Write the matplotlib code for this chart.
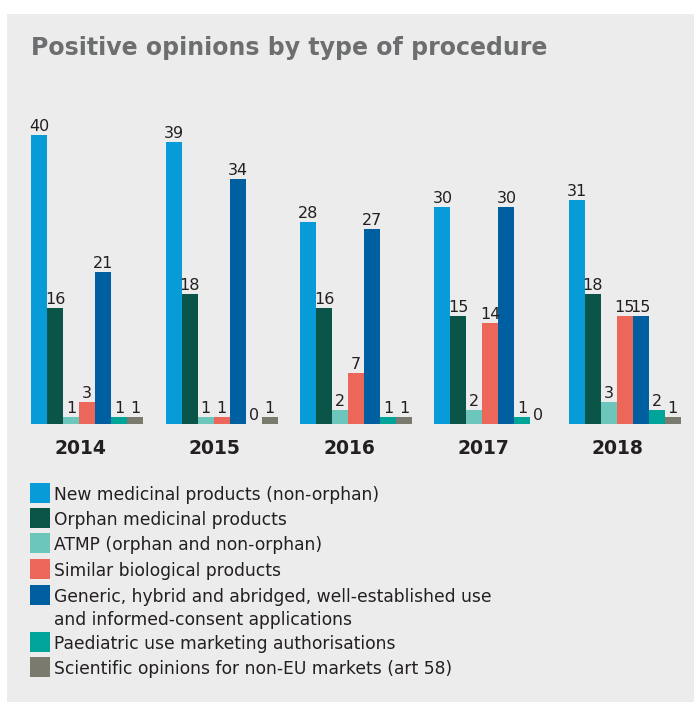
import matplotlib
matplotlib.use("Agg")
import matplotlib.pyplot as plt
from matplotlib.patches import Rectangle
import numpy as np

years = ["2014", "2015", "2016", "2017", "2018"]
series_names = [
    "New medicinal products (non-orphan)",
    "Orphan medicinal products",
    "ATMP (orphan and non-orphan)",
    "Similar biological products",
    "Generic, hybrid and abridged, well-established use\nand informed-consent applications",
    "Paediatric use marketing authorisations",
    "Scientific opinions for non-EU markets (art 58)",
]
new_medicinal = [40, 39, 28, 30, 31]
orphan = [16, 18, 16, 15, 18]
atmp = [1, 1, 2, 2, 3]
similar_bio = [3, 1, 7, 14, 15]
generic = [21, 34, 27, 30, 15]
paediatric = [1, 0, 1, 1, 2]
art58 = [1, 1, 1, 0, 1]
series_values = [new_medicinal, orphan, atmp, similar_bio, generic, paediatric, art58]
colors = ["#079bd8", "#0a5547", "#6cc6bc", "#ec665a", "#005fa0", "#00a498", "#7a7a6f"]

W, H = 694, 702
fig = plt.figure(figsize=(W / 100, H / 100), dpi=100)
fig.patch.set_facecolor("white")
bg = "#ececec"
fig.add_artist(Rectangle((7 / W, 0), 1 - 7 / W, (H - 14) / H, transform=fig.transFigure,
                         facecolor=bg, edgecolor="none", zorder=0))

fig.text(31 / W, 1 - 55 / H, "Positive opinions by type of procedure", fontsize=17,
         fontweight="bold", color="#6d6e70", va="baseline", ha="left")

# axes: x from -0.5..4.5 maps to px 20..692; baseline at px 424, 7.22 px/unit
ax_left, ax_right = 20, 692
ylim_top = 45
px_per_unit = 7.22
base_px = 424
ax_h_px = ylim_top * px_per_unit
ax = fig.add_axes([ax_left / W, (H - base_px) / H, (ax_right - ax_left) / W, ax_h_px / H])
ax.set_xlim(-0.5, 4.5)
ax.set_ylim(0, ylim_top)
ax.axis("off")

x = np.arange(len(years))
bw = 16 / 134.5
n = len(series_values)
for j, (vals, c) in enumerate(zip(series_values, colors)):
    pos = x + (j - (n - 1) / 2) * bw
    ax.bar(pos, vals, width=bw, color=c, edgecolor="none", zorder=2)
    for p, v in zip(pos, vals):
        ax.annotate(str(v), (p, v), xytext=(0, 4), textcoords="offset pixels",
                    ha="center", va="baseline", fontsize=11.5, color="#231f20")

for xi, yr in zip(x, years):
    ax.annotate(yr, (xi, 0), xytext=(-7, -24), textcoords="offset pixels",
                ha="center", va="center", fontsize=13.5, fontweight="bold", color="#231f20")

# legend
sw_x, sw_w = 30, 20
tops = [483, 508, 533, 559, 585, 632, 657]
line_gap = 23
for name, c, t in zip(series_names, colors, tops):
    fig.add_artist(Rectangle((sw_x / W, 1 - (t + 20) / H), sw_w / W, 20 / H,
                             transform=fig.transFigure, facecolor=c, edgecolor="none"))
    extra = name.count("\n") * line_gap
    fig.text(54 / W, 1 - (t + 17 + extra) / H, name, fontsize=12.3, color="#231f20",
             ha="left", va="baseline", linespacing=1.38)

fig.savefig("out.png", dpi=100, facecolor=fig.get_facecolor())
